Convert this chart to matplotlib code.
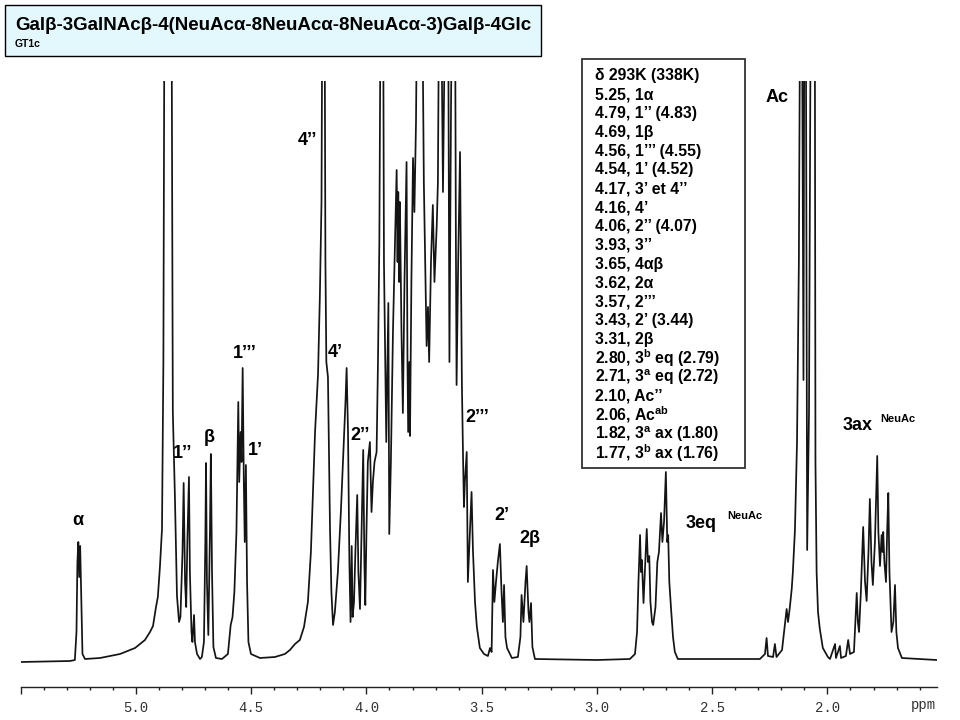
import numpy as np
import matplotlib
matplotlib.use('Agg')
import matplotlib.pyplot as plt
from matplotlib.patches import Rectangle
from matplotlib.ticker import MultipleLocator

plt.rcParams['font.family'] = ['Liberation Sans', 'DejaVu Sans']
plt.rcParams['mathtext.fontset'] = 'custom'
plt.rcParams['mathtext.rm'] = 'Liberation Sans'
plt.rcParams['mathtext.bf'] = 'Liberation Sans:bold'

# Spectrum trace: chemical shift (ppm) and intensity above baseline.
# Values of 700 are off-scale (peaks cut at the top of the plot).
shift_ppm = [
    # 5.5 - 4.3 : anomeric region + HDO
    5.500, 5.286, 5.265, 5.258, 5.254, 5.250, 5.246, 5.242, 5.237, 5.232, 5.221, 5.156,
    5.069, 5.004, 4.961, 4.939, 4.926, 4.913, 4.905, 4.896, 4.887, 4.881, 4.876, 4.846,
    4.840, 4.831, 4.822, 4.813, 4.807, 4.798, 4.793, 4.787, 4.782, 4.777, 4.770, 4.766,
    4.759, 4.755, 4.748, 4.744, 4.735, 4.722, 4.714, 4.705, 4.699, 4.696, 4.692, 4.686,
    4.679, 4.675, 4.670, 4.664, 4.653, 4.627, 4.601, 4.589, 4.581, 4.573, 4.564, 4.556,
    4.552, 4.546, 4.542, 4.537, 4.532, 4.528, 4.523, 4.518, 4.512, 4.501, 4.462, 4.397,
    4.354, 4.332, 4.310, 4.289,
    # 4.3 - 3.25 : ring protons
    4.271, 4.254, 4.241, 4.232, 4.223, 4.210, 4.202, 4.195, 4.191, 4.182, 4.178, 4.174,
    4.167, 4.158, 4.152, 4.145, 4.137, 4.124, 4.111, 4.102, 4.091, 4.086, 4.080, 4.074,
    4.069, 4.064, 4.060, 4.054, 4.048, 4.040, 4.035, 4.028, 4.022, 4.014, 4.009, 4.005,
    4.000, 3.994, 3.985, 3.978, 3.972, 3.965, 3.956, 3.950, 3.944, 3.938, 3.928, 3.924,
    3.914, 3.905, 3.901, 3.894, 3.885, 3.876, 3.869, 3.865, 3.862, 3.858, 3.855, 3.848,
    3.842, 3.835, 3.826, 3.822, 3.819, 3.814, 3.811, 3.805, 3.798, 3.792, 3.785, 3.779,
    3.759, 3.751, 3.739, 3.733, 3.728, 3.720, 3.712, 3.705, 3.695, 3.690, 3.684, 3.677,
    3.668, 3.657, 3.646, 3.640, 3.633, 3.627, 3.616, 3.612, 3.609, 3.602, 3.594, 3.590,
    3.586, 3.581, 3.577, 3.573, 3.565, 3.560, 3.553, 3.544, 3.538, 3.529, 3.521, 3.508,
    3.490, 3.473, 3.464, 3.457, 3.451, 3.445, 3.438, 3.430, 3.421, 3.414, 3.408, 3.403,
    3.397, 3.390, 3.369, 3.343, 3.332, 3.327, 3.319, 3.310, 3.305, 3.297, 3.293, 3.286,
    3.280, 3.269, 3.000,
    # 2.9 - 1.5 : NeuAc H3eq, acetyl, NeuAc H3ax
    2.857, 2.835, 2.826, 2.820, 2.813, 2.809, 2.805, 2.798, 2.792, 2.784, 2.779, 2.773,
    2.768, 2.761, 2.756, 2.746, 2.738, 2.731, 2.722, 2.716, 2.709, 2.701, 2.695, 2.691,
    2.686, 2.679, 2.670, 2.662, 2.649, 2.293, 2.271, 2.264, 2.258, 2.236, 2.228, 2.221,
    2.197, 2.177, 2.171, 2.163, 2.155, 2.150, 2.141, 2.132, 2.124, 2.118, 2.111, 2.104,
    2.100, 2.094, 2.088, 2.080, 2.072, 2.055, 2.052, 2.047, 2.041, 2.033, 2.020, 1.998,
    1.989, 1.967, 1.963, 1.946, 1.941, 1.920, 1.910, 1.902, 1.885, 1.879, 1.873, 1.868,
    1.863, 1.855, 1.845, 1.837, 1.830, 1.822, 1.816, 1.809, 1.803, 1.794, 1.784, 1.779,
    1.772, 1.765, 1.761, 1.758, 1.753, 1.746, 1.741, 1.736, 1.731, 1.722, 1.714, 1.707,
    1.701, 1.694, 1.677, 1.526,
]
intensity = [
    0, 1, 2, 30, 100, 120, 85, 116, 60, 8, 3, 4,
    8, 14, 22, 30, 36, 55, 65, 95, 133, 300, 700, 700,
    250, 166, 66, 40, 45, 110, 179, 80, 55, 120, 185, 90,
    30, 20, 47, 20, 8, 3, 5, 20, 120, 199, 80, 27,
    130, 208, 90, 15, 4, 3, 8, 37, 45, 70, 130, 260,
    180, 230, 200, 294, 180, 120, 197, 80, 20, 8, 4, 5,
    8, 12, 18, 22,
    35, 60, 110, 171, 230, 288, 367, 460, 700, 700, 400, 300,
    285, 132, 70, 37, 50, 90, 150, 200, 260, 294, 230, 100,
    40, 116, 45, 60, 110, 167, 90, 53, 120, 212, 100, 57,
    130, 200, 220, 150, 180, 200, 210, 300, 420, 700, 700, 400,
    220, 359, 128, 200, 330, 420, 492, 400, 470, 380, 460, 330,
    249, 380, 500, 300, 230, 300, 226, 380, 504, 450, 540, 700,
    700, 480, 316, 355, 300, 400, 457, 380, 437, 480, 700, 700,
    470, 700, 700, 300, 560, 700, 700, 420, 277, 400, 510, 400,
    280, 206, 155, 180, 210, 80, 120, 170, 112, 60, 35, 14,
    8, 6, 14, 10, 92, 60, 80, 100, 118, 70, 40, 77,
    25, 14, 4, 5, 25, 67, 40, 80, 96, 50, 40, 59,
    15, 3, 2,
    3, 8, 30, 80, 127, 90, 102, 59, 90, 133, 100, 106,
    60, 40, 37, 55, 100, 110, 149, 120, 140, 190, 120, 127,
    80, 55, 25, 10, 3, 3, 8, 24, 6, 5, 18, 5,
    12, 53, 40, 55, 73, 90, 132, 220, 400, 700, 700, 282,
    700, 700, 112, 250, 700, 700, 200, 90, 50, 33, 14, 5,
    3, 18, 4, 16, 4, 6, 22, 8, 10, 40, 69, 40,
    30, 70, 135, 80, 61, 110, 163, 100, 77, 120, 206, 130,
    96, 127, 110, 130, 100, 80, 130, 169, 90, 30, 40, 77,
    30, 14, 4, 2,
]

# Peak assignments written on the spectrum
peak_labels = ['α', '1’’', 'β', '1’’’', '1’', '4’’', '4’', '2’’', '2’’’', '2’', '2β', 'Ac']
label_ppm = [5.252, 4.796, 4.683, 4.527, 4.484, 4.258, 4.137, 4.028, 3.521, 3.412, 3.291, 2.218]
label_height = [142, 209, 225, 309, 212, 522, 310, 227, 245, 147, 124, 565]

# NeuAc H3 labels with superscript
neuac_labels = ['3eq', '3ax']
neuac_ppm = [2.546, 1.868]
neuac_height = [139, 237]
sup_ppm = [2.358, 1.694]
sup_height = [146, 243]

# Shift table in the box
table_lines = [
    'δ 293K (338K)',
    '5.25, 1α',
    '4.79, 1’’ (4.83)',
    '4.69, 1β',
    '4.56, 1’’’ (4.55)',
    '4.54, 1’ (4.52)',
    '4.17, 3’ et 4’’',
    '4.16, 4’',
    '4.06, 2’’ (4.07)',
    '3.93, 3’’',
    '3.65, 4αβ',
    '3.62, 2α',
    '3.57, 2’’’',
    '3.43, 2’ (3.44)',
    '3.31, 2β',
    r'2.80, 3$^{\mathbf{b}}$ eq (2.79)',
    r'2.71, 3$^{\mathbf{a}}$ eq (2.72)',
    '2.10, Ac’’',
    r'2.06, Ac$^{\mathbf{ab}}$',
    r'1.82, 3$^{\mathbf{a}}$ ax (1.80)',
    r'1.77, 3$^{\mathbf{b}}$ ax (1.76)',
]

tick_values = [5.5, 5.0, 4.5, 4.0, 3.5, 3.0, 2.5, 2.0]
tick_text = ['', '5.0', '4.5', '4.0', '3.5', '3.0', '2.5', '2.0']

W, H = 960, 720
fig = plt.figure(figsize=(9.6, 7.2), dpi=100, facecolor='white')
ax = fig.add_axes([20.7 / W, 1 - 686.7 / H, (936.7 - 20.7) / W, (686.7 - 81) / H])
ax.plot(shift_ppm, intensity, color='#141414', lw=1.25)
ax.set_xlim(5.50, 1.526)
ax.set_ylim(-24.7, 581)

for s in ('top', 'left', 'right'):
    ax.spines[s].set_visible(False)
ax.spines['bottom'].set_color('#222222')
ax.spines['bottom'].set_linewidth(1.0)
ax.set_yticks([])
ax.set_xticks(tick_values)
ax.set_xticklabels(tick_text)
ax.xaxis.set_minor_locator(MultipleLocator(0.1))
ax.tick_params(axis='x', which='major', length=5, width=1, color='#222222',
               pad=5, labelsize=10, labelcolor='#333333')
ax.tick_params(axis='x', which='minor', length=2.5, width=1, color='#222222')
for lab in ax.get_xticklabels():
    lab.set_fontfamily('Liberation Mono')
fig.text(923 / W, 1 - 705 / H, 'ppm', fontsize=10, family='Liberation Mono',
         color='#333333', ha='center', va='center')

for t, x, y in zip(peak_labels, label_ppm, label_height):
    ax.text(x, y, t, ha='center', va='center', fontsize=13, fontweight='bold')
for t, x, y, sx, sy in zip(neuac_labels, neuac_ppm, neuac_height, sup_ppm, sup_height):
    ax.text(x, y, t, ha='center', va='center', fontsize=13, fontweight='bold')
    ax.text(sx, sy, 'NeuAc', ha='center', va='center', fontsize=8, fontweight='bold')

# title box
fig.patches.append(Rectangle((5 / W, 1 - 56 / H), (541 - 5) / W, (56 - 5) / H,
                             transform=fig.transFigure, facecolor='#e2f8fc',
                             edgecolor='black', lw=1.0))
fig.text(15 / W, 1 - 25 / H, 'Galβ-3GalNAcβ-4(NeuAcα-8NeuAcα-8NeuAcα-3)Galβ-4Glc',
         fontsize=13.5, fontweight='bold', va='center', ha='left')
fig.text(15 / W, 1 - 44 / H, 'GT1c', fontsize=7.5, fontweight='bold', va='center', ha='left')

# shift table box
fig.patches.append(Rectangle((582 / W, 1 - 468 / H), (745 - 582) / W, (468 - 59) / H,
                             transform=fig.transFigure, facecolor='white',
                             edgecolor='#333333', lw=1.3))
for i, line in enumerate(table_lines):
    fig.text(595 / W, 1 - (75.7 + i * 18.85) / H, line, fontsize=11.3,
             fontweight='bold', va='center', ha='left')

fig.savefig('out.png', dpi=100, facecolor='white')
